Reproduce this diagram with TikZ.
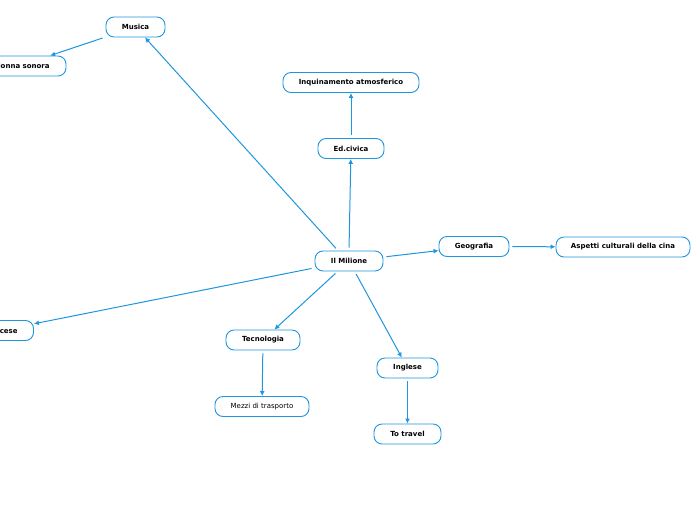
\documentclass[tikz,border=0pt]{standalone}
\usepackage{fontspec}
\setmainfont{DejaVu Sans}
\usetikzlibrary{arrows.meta}
\definecolor{mblue}{RGB}{30,150,222}
\tikzset{
  topic/.style={draw=mblue, line width=0.9pt, rounded corners=8pt, fill=white,
    minimum height=20pt, inner sep=0pt, font=\fontsize{7}{8}\selectfont\bfseries, text=black},
  plain/.style={topic, font=\fontsize{7}{8}\selectfont},
  link/.style={draw=mblue, line width=1pt, shorten <=3pt, -{Latex[length=5pt,width=5pt]}}
}
\begin{document}
\begin{tikzpicture}[x=1pt,y=-1pt]
\useasboundingbox (0,0) rectangle (696,520);
\node[topic, minimum width=59pt] (mus) at (135.5,27) {Musica};
\node[topic, minimum width=94pt] (col) at (19,66) {Colonna sonora};
\node[topic, minimum width=136pt] (inq) at (351,82.5) {Inquinamento atmosferico};
\node[topic, minimum width=66pt] (edc) at (351,148.5) {Ed.civica};
\node[topic, minimum width=68pt] (mil) at (349,261) {Il Milione};
\node[topic, minimum width=70pt] (geo) at (474,246.5) {Geografia};
\node[topic, minimum width=134pt] (asp) at (623,247) {Aspetti culturali della cina};
\node[topic, minimum width=67pt] (fra) at (0,330.5) {Francese};
\node[topic, minimum width=74pt] (tec) at (263,340) {Tecnologia};
\node[plain, minimum width=94pt] (mez) at (262,406.5) {Mezzi di trasporto};
\node[topic, minimum width=61pt] (ing) at (407.5,368) {Inglese};
\node[topic, minimum width=67pt] (tra) at (407.5,434) {To travel};
\draw[link] (mil.north) ++(-11,0) coordinate (m1) -- (mus);
\draw[link] (mil.north) ++(0,0) -- (edc);
\draw[link] (edc) -- (inq);
\draw[link] (mus) -- (col);
\draw[link] (mil) -- (geo);
\draw[link] (geo) -- (asp);
\draw[link] (mil) -- (fra);
\draw[link] (mil) -- (tec);
\draw[link] (mil) -- (ing);
\draw[link] (tec) -- (mez);
\draw[link] (ing) -- (tra);
\end{tikzpicture}
\end{document}
